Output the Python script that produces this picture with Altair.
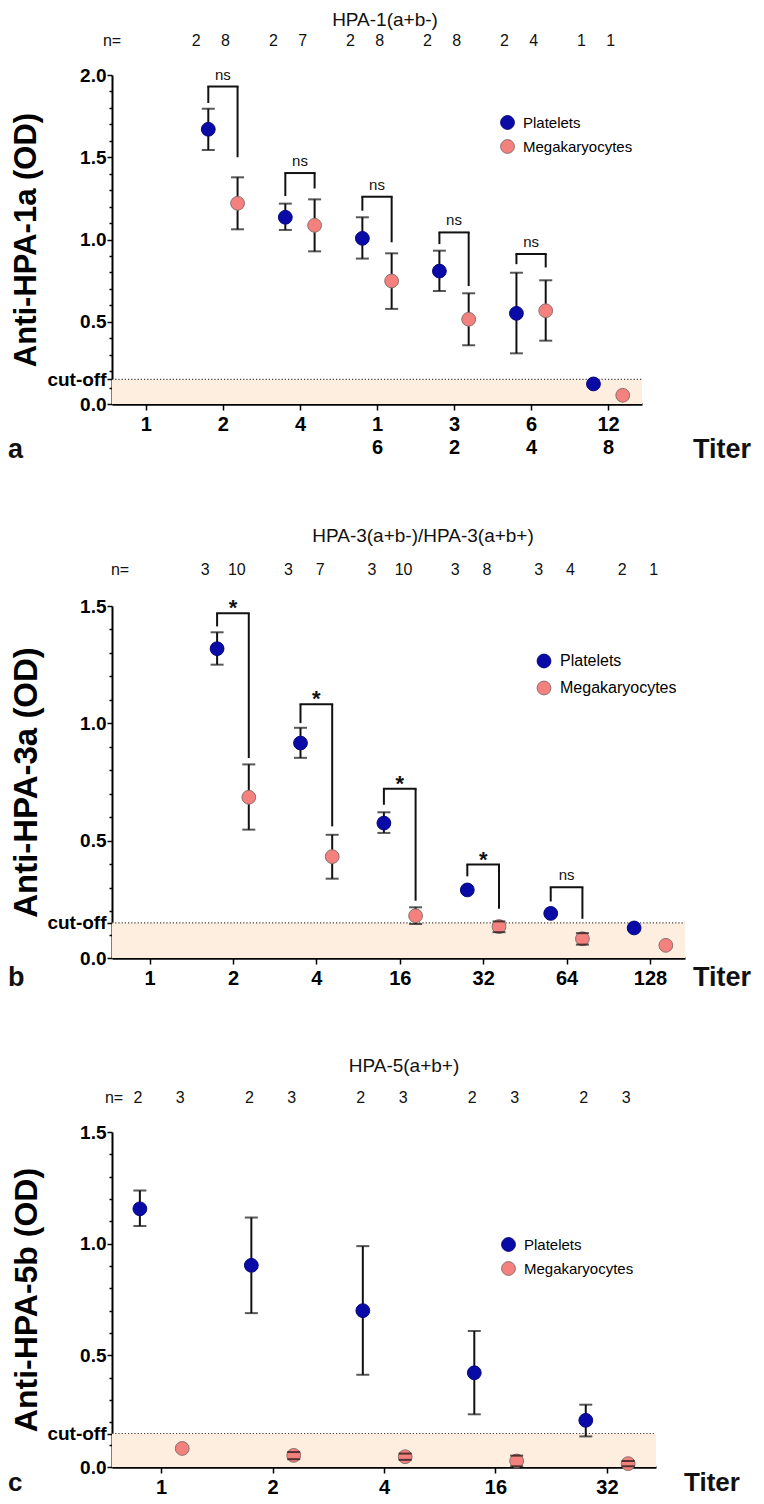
import json
import altair as alt
import pandas as pd

FONT = "Liberation Sans"
SERIES = ["Platelets", "Megakaryocytes"]
FILL = ["#0a0aa6", "#f4817d"]
EDGE = ["#06067e", "#8a6f6d"]
SHADE = "#fdeee0"
CUTOFF_VALUE = 0.15
DODGE = 0.19

# ---------------- Panel a : HPA-1(a+b-) ----------------
a_title = "HPA-1(a+b-)"
a_ylabel = "Anti-HPA-1a (OD)"
a_tick_labels = ["1", "2", "4", "1\n6", "3\n2", "6\n4", "12\n8"]
a_idx = [2, 3, 4, 5, 6, 7]
a_plt_mean = [1.67, 1.135, 1.007, 0.808, 0.551, 0.122]
a_plt_lo = [1.544, 1.058, 0.884, 0.687, 0.308, None]
a_plt_hi = [1.795, 1.218, 1.135, 0.932, 0.798, None]
a_mk_mean = [1.22, 1.086, 0.748, 0.515, 0.567, 0.053]
a_mk_lo = [1.062, 0.928, 0.578, 0.357, 0.385, None]
a_mk_hi = [1.378, 1.244, 0.916, 0.673, 0.752, None]
a_n_plt = [2, 2, 2, 2, 2, 1]
a_n_mk = [8, 7, 8, 8, 4, 1]
a_brk_idx = [2, 3, 4, 5, 6]
a_brk_top = [1.93, 1.404, 1.26, 1.043, 0.912]
a_brk_left = [1.83, 1.264, 1.175, 0.972, 0.85]
a_brk_right = [1.50, 1.31, 0.983, 0.717, 0.83]
a_brk_label = ["ns", "ns", "ns", "ns", "ns"]

# ---------------- Panel b : HPA-3 ----------------
b_title = "HPA-3(a+b-)/HPA-3(a+b+)"
b_ylabel = "Anti-HPA-3a (OD)"
b_tick_labels = ["1", "2", "4", "16", "32", "64", "128"]
b_idx = [2, 3, 4, 5, 6, 7]
b_plt_mean = [1.318, 0.916, 0.575, 0.29, 0.19, 0.128]
b_plt_lo = [1.25, 0.853, 0.533, None, None, None]
b_plt_hi = [1.388, 0.981, 0.621, None, None, None]
b_mk_mean = [0.685, 0.432, 0.18, 0.134, 0.082, 0.054]
b_mk_lo = [0.547, 0.338, 0.145, 0.11, 0.057, None]
b_mk_hi = [0.825, 0.525, 0.216, 0.156, 0.106, None]
b_n_plt = [3, 3, 3, 3, 3, 2]
b_n_mk = [10, 7, 10, 8, 4, 1]
b_brk_idx = [2, 3, 4, 5, 6]
b_brk_top = [1.469, 1.081, 0.721, 0.398, 0.301]
b_brk_left = [1.413, 1.001, 0.653, 0.348, 0.241]
b_brk_right = [0.852, 0.561, 0.244, 0.21, 0.167]
b_brk_label = ["*", "*", "*", "*", "ns"]

# ---------------- Panel c : HPA-5(a+b+) ----------------
c_title = "HPA-5(a+b+)"
c_ylabel = "Anti-HPA-5b (OD)"
c_tick_labels = ["1", "2", "4", "16", "32"]
c_idx = [1, 2, 3, 4, 5]
c_plt_mean = [1.156, 0.903, 0.70, 0.422, 0.209]
c_plt_lo = [1.079, 0.689, 0.413, 0.236, 0.137]
c_plt_hi = [1.238, 1.117, 0.989, 0.609, 0.279]
c_mk_mean = [0.083, 0.052, 0.046, 0.027, 0.015]
c_mk_lo = [None, 0.035, 0.032, 0.003, 0.003]
c_mk_hi = [None, 0.067, 0.06, 0.051, 0.027]
c_n_plt = [2, 2, 2, 2, 2]
c_n_mk = [3, 3, 3, 3, 3]
c_brk_idx = []
c_brk_top = []
c_brk_left = []
c_brk_right = []
c_brk_label = []

XCALC = "datum.idx + (datum.series == 'Platelets' ? -%s : %s)" % (DODGE, DODGE)


def panel(letter, title, ylabel, tick_labels, idx, pm, plo, phi, mm, mlo, mhi,
          npl, nmk, bidx, btop, bleft, bright, blab, ymax, L):
    w, h = L["w"], L["h"]
    ncat = len(tick_labels)
    rows = []
    for s, means, los, his in ((SERIES[0], pm, plo, phi), (SERIES[1], mm, mlo, mhi)):
        for i, m, lo, hi in zip(idx, means, los, his):
            rows.append({"series": s, "idx": i, "mean": m, "lo": lo, "hi": hi})
    pts = pd.DataFrame(rows)
    nrows = []
    for i, a, b in zip(idx, npl, nmk):
        nrows.append({"series": SERIES[0], "idx": i, "n": str(a)})
        nrows.append({"series": SERIES[1], "idx": i, "n": str(b)})
    ndf = pd.DataFrame(nrows)

    xscale = alt.Scale(domain=[0.5 + L["padl"], ncat + 0.5 - L["padr"]], nice=False, zero=False)
    yscale = alt.Scale(domain=[0, ymax], nice=False, zero=True)
    lab_js = json.dumps(tick_labels)
    xaxis = alt.Axis(values=list(range(1, ncat + 1)), title=None, grid=False,
                     labelExpr="split(%s[round(datum.value) - 1], '\\n')" % lab_js,
                     labelFont=FONT, labelFontSize=20, labelFontWeight="bold",
                     labelColor="black", labelLineHeight=23, labelPadding=4,
                     labelBaseline="top", tickSize=6, tickWidth=1.5, tickColor="black",
                     domainColor="black", domainWidth=2.5)
    yvals = sorted(set([round(k * 0.1, 2) for k in range(int(round(ymax * 10)) + 1)] + [CUTOFF_VALUE]))
    yaxis = alt.Axis(values=yvals, grid=False, title=ylabel,
                     labelExpr="datum.value == 0.15 ? 'cut-off' : (abs(datum.value * 2 - round(datum.value * 2)) < 0.001 ? format(datum.value, '.1f') : '')",
                     labelFont=FONT, labelFontSize=19, labelFontWeight="bold",
                     labelColor="black", labelPadding=1, labelOverlap=False,
                     tickSize={"condition": {"test": "datum.value == 0.15 || abs(datum.value * 2 - round(datum.value * 2)) < 0.001", "value": 5}, "value": 3},
                     tickWidth=1.5, tickColor="black", domainColor="black", domainWidth=2,
                     titleFont=FONT, titleFontSize=L["ytsize"], titleFontWeight="bold",
                     titleColor="black", titleAngle=270, titleX=L["ytx"], titleY=h / 2,
                     titleAlign="center", titleBaseline="middle")

    def X(f):
        return alt.X(f, type="quantitative", scale=xscale, axis=xaxis)

    def Y(f):
        return alt.Y(f, type="quantitative", scale=yscale, axis=yaxis)

    fill_scale = alt.Scale(domain=SERIES, range=FILL)
    edge_scale = alt.Scale(domain=SERIES, range=EDGE)
    leg = alt.Legend(orient="none", legendX=L["lx"], legendY=L["ly"], title=None,
                     labelFont=FONT, labelFontSize=L["lfs"], labelColor="black",
                     symbolSize=190, symbolStrokeWidth=1, rowPadding=L["lrow"],
                     labelOffset=8, padding=0)

    shade = alt.Chart(pd.DataFrame({"y0": [0.0], "y1": [CUTOFF_VALUE]})).mark_rect(
        color=SHADE).encode(x=alt.value(0), x2=alt.value(w), y=Y("y0"), y2="y1:Q")
    cut = alt.Chart(pd.DataFrame({"y0": [CUTOFF_VALUE]})).mark_rule(
        color="#444", strokeDash=[1.2, 2], strokeWidth=1.2).encode(
        x=alt.value(0), x2=alt.value(w), y=Y("y0"))

    base = alt.Chart(pts).transform_calculate(xpos=XCALC)
    ebar = base.transform_filter("isValid(datum.lo)").mark_rule(
        color="#111", strokeWidth=2).encode(x=X("xpos"), y=Y("lo"), y2="hi:Q")
    cap_lo = base.transform_filter("isValid(datum.lo)").mark_tick(
        color="#111", orient="horizontal", size=13, thickness=2).encode(x=X("xpos"), y=Y("lo"))
    cap_hi = base.transform_filter("isValid(datum.hi)").mark_tick(
        color="#111", orient="horizontal", size=13, thickness=2).encode(x=X("xpos"), y=Y("hi"))
    dots = base.mark_point(filled=True, size=190, opacity=1, strokeWidth=1).encode(
        x=X("xpos"), y=Y("mean"),
        fill=alt.Fill("series:N", scale=fill_scale, legend=leg),
        stroke=alt.Stroke("series:N", scale=edge_scale, legend=leg))

    layers = [shade, cut]

    if bidx:
        bdf = pd.DataFrame({"idx": bidx, "top": btop, "left": bleft, "right": bright, "lab": blab})
        bb = alt.Chart(bdf).transform_calculate(
            xl="datum.idx - %s" % DODGE, xr="datum.idx + %s" % DODGE)
        layers += [
            bb.mark_rule(color="#111", strokeWidth=2, strokeCap="square").encode(
                x=X("xl"), x2="xr:Q", y=Y("top")),
            bb.mark_rule(color="#111", strokeWidth=2).encode(x=X("xl"), y=Y("left"), y2="top:Q"),
            bb.mark_rule(color="#111", strokeWidth=2).encode(x=X("xr"), y=Y("right"), y2="top:Q"),
            bb.transform_filter("datum.lab == 'ns'").mark_text(
                font=FONT, fontSize=15, color="#111", baseline="alphabetic", dy=-7).encode(
                x=X("idx"), y=Y("top"), text="lab:N"),
            bb.transform_filter("datum.lab != 'ns'").mark_text(
                font=FONT, fontSize=22, fontWeight="bold", color="#111",
                baseline="alphabetic", dy=2).encode(
                x=X("idx"), y=Y("top"), text="lab:N"),
        ]

    layers += [ebar, dots, cap_lo, cap_hi]

    ntext = alt.Chart(ndf).transform_calculate(xpos=XCALC).mark_text(
        font=FONT, fontSize=16, color="#111", baseline="middle", dx=L["ndx"]).encode(
        x=X("xpos"), y=alt.value(L["ny"]), text="n:N")
    neq = alt.Chart(pd.DataFrame({"t": ["n="]})).mark_text(
        font=FONT, fontSize=16, color="#111", baseline="middle").encode(
        x=alt.value(L["neqx"]), y=alt.value(L["ny"]), text="t:N")
    ttl = alt.Chart(pd.DataFrame({"t": [title]})).mark_text(
        font=FONT, fontSize=19, color="#111", baseline="middle").encode(
        x=alt.value(L["tx"]), y=alt.value(L["ty"]), text="t:N")
    let = alt.Chart(pd.DataFrame({"t": [letter]})).mark_text(
        font=FONT, fontSize=L["bfs"], fontWeight="bold", color="#111", baseline="middle",
        align="left").encode(x=alt.value(-104), y=alt.value(L["by"]), text="t:N")
    titer = alt.Chart(pd.DataFrame({"t": ["Titer"]})).mark_text(
        font=FONT, fontSize=L["bfs"], fontWeight="bold", color="#111", baseline="middle").encode(
        x=alt.value(L["titx"]), y=alt.value(L["by"]), text="t:N")
    layers += [ntext, neq, ttl, let, titer]

    return alt.layer(*layers).properties(width=w, height=h)


pa = panel("a", a_title, a_ylabel, a_tick_labels, a_idx, a_plt_mean, a_plt_lo, a_plt_hi,
           a_mk_mean, a_mk_lo, a_mk_hi, a_n_plt, a_n_mk, a_brk_idx, a_brk_top,
           a_brk_left, a_brk_right, a_brk_label, 2.0,
           dict(w=530, h=329, padl=0.06, padr=0.06, ytsize=31, ytx=-86,
                lx=388, ly=40, lfs=15, lrow=5, ndx=-12, ny=-34, neqx=0,
                tx=273, ty=-55, by=375, titx=610, bfs=27))
pb = panel("b", b_title, b_ylabel, b_tick_labels, b_idx, b_plt_mean, b_plt_lo, b_plt_hi,
           b_mk_mean, b_mk_lo, b_mk_hi, b_n_plt, b_n_mk, b_brk_idx, b_brk_top,
           b_brk_left, b_brk_right, b_brk_label, 1.5,
           dict(w=573, h=352, padl=0.05, padr=0.08, ytsize=33, ytx=-86,
                lx=424, ly=47, lfs=16, lrow=9, ndx=-12, ny=-36, neqx=8,
                tx=311, ty=-70, by=372, titx=610, bfs=27))
pc = panel("c", c_title, c_ylabel, c_tick_labels, c_idx, c_plt_mean, c_plt_lo, c_plt_hi,
           c_mk_mean, c_mk_lo, c_mk_hi, c_n_plt, c_n_mk, c_brk_idx, c_brk_top,
           c_brk_left, c_brk_right, c_brk_label, 1.5,
           dict(w=544, h=335, padl=0.06, padr=0.06, ytsize=32, ytx=-86,
                lx=389, ly=105, lfs=15, lrow=5, ndx=-2, ny=-34, neqx=2,
                tx=292, ty=-66, by=351, titx=600, bfs=26))

top = alt.vconcat(pa, pb, spacing=64).resolve_scale(
    fill="independent", stroke="independent").resolve_legend(
    fill="independent", stroke="independent")
chart = alt.vconcat(top, pc, spacing=66).resolve_scale(
    fill="independent", stroke="independent").resolve_legend(
    fill="independent", stroke="independent").properties(
    padding={"top": 3, "left": 0, "right": 0, "bottom": 0},
    background="white").configure_view(stroke=None)

chart.save("out.html", embed_options={"renderer": "svg", "actions": False})
